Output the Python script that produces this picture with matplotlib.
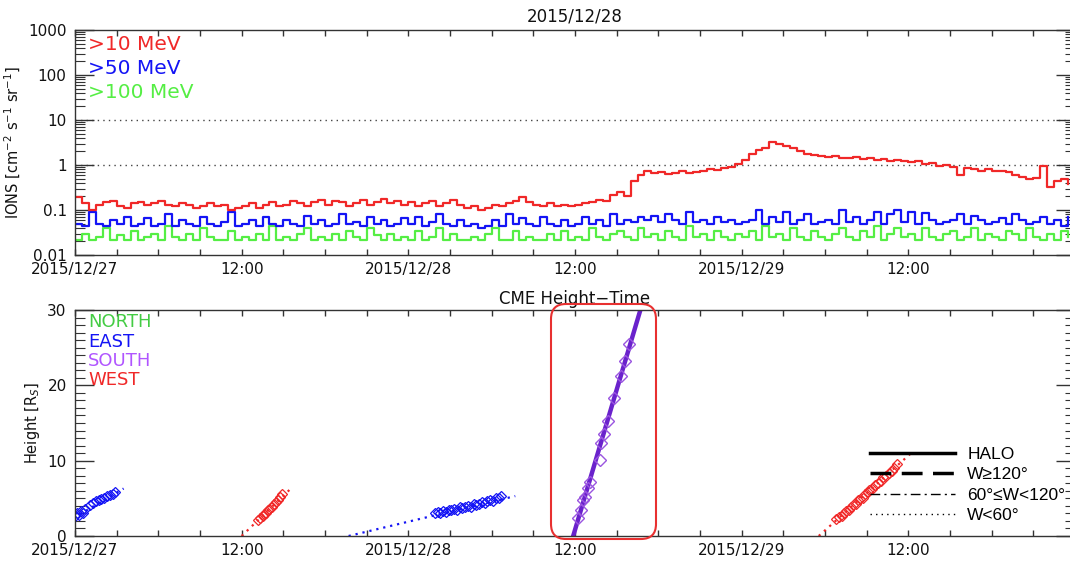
import matplotlib
matplotlib.use('Agg')
import matplotlib.pyplot as plt, numpy as np
from matplotlib.lines import Line2D
from matplotlib.patches import FancyBboxPatch
from matplotlib.transforms import IdentityTransform
from matplotlib.ticker import FixedLocator, MultipleLocator, FuncFormatter, LogLocator, NullFormatter

plt.rcParams['font.family'] = ['DejaVu Sans']

# GOES integral proton flux, 30-min samples from 2015/12/27 00:00
flux_10 = [0.19,0.14,0.10,0.13,0.15,0.16,0.12,0.11,0.14,0.15,0.13,0.14,
           0.16,0.13,0.12,0.14,0.13,0.11,0.12,0.14,0.12,0.13,0.10,0.11,
           0.12,0.14,0.11,0.13,0.15,0.12,0.13,0.16,0.14,0.12,0.15,0.17,
           0.13,0.16,0.15,0.12,0.14,0.17,0.13,0.15,0.18,0.14,0.16,0.13,
           0.15,0.12,0.14,0.16,0.12,0.14,0.17,0.13,0.11,0.12,0.10,0.11,
           0.13,0.12,0.14,0.16,0.19,0.15,0.13,0.12,0.14,0.12,0.13,0.12,
           0.13,0.14,0.15,0.17,0.16,0.22,0.25,0.20,0.45,0.60,0.72,0.65,
           0.70,0.63,0.68,0.72,0.66,0.70,0.75,0.80,0.78,0.85,0.90,1.05,
           1.3,1.8,2.2,2.4,3.3,2.9,2.7,2.4,2.0,1.8,1.7,1.6,
           1.5,1.55,1.4,1.45,1.5,1.35,1.4,1.3,1.35,1.25,1.3,1.2,
           1.15,1.2,1.05,1.1,0.95,1.0,0.9,0.6,0.85,0.8,0.75,0.82,
           0.72,0.75,0.7,0.6,0.55,0.5,0.52,0.95,0.33,0.45,0.5,0.38]
flux_50 = [0.05,0.045,0.09,0.05,0.045,0.06,0.05,0.07,0.045,0.05,0.065,0.045,
           0.05,0.08,0.045,0.06,0.05,0.045,0.07,0.05,0.045,0.055,0.09,0.045,
           0.05,0.06,0.045,0.07,0.05,0.045,0.06,0.05,0.045,0.075,0.05,0.06,
           0.045,0.05,0.08,0.05,0.055,0.045,0.07,0.05,0.06,0.045,0.05,0.065,
           0.05,0.07,0.045,0.055,0.08,0.05,0.045,0.06,0.045,0.05,0.04,0.045,
           0.06,0.045,0.08,0.05,0.065,0.05,0.045,0.07,0.05,0.045,0.06,0.045,
           0.05,0.07,0.05,0.06,0.045,0.08,0.05,0.06,0.055,0.07,0.06,0.075,
           0.055,0.08,0.06,0.05,0.09,0.055,0.06,0.05,0.07,0.055,0.06,0.05,
           0.055,0.06,0.1,0.05,0.07,0.055,0.09,0.05,0.06,0.08,0.05,0.055,
           0.06,0.05,0.1,0.055,0.07,0.05,0.06,0.09,0.05,0.08,0.1,0.055,
           0.09,0.05,0.085,0.06,0.05,0.055,0.06,0.08,0.05,0.075,0.06,0.05,
           0.055,0.065,0.05,0.08,0.06,0.05,0.055,0.07,0.05,0.06,0.045,0.07]
flux_100 = [0.022,0.03,0.022,0.025,0.04,0.022,0.028,0.022,0.035,0.022,0.025,0.03,
            0.022,0.045,0.025,0.022,0.03,0.022,0.04,0.025,0.022,0.022,0.035,0.022,
            0.025,0.022,0.03,0.022,0.045,0.022,0.025,0.022,0.03,0.04,0.022,0.025,
            0.022,0.03,0.022,0.035,0.025,0.022,0.04,0.028,0.022,0.03,0.022,0.025,
            0.022,0.035,0.022,0.025,0.04,0.022,0.03,0.022,0.022,0.025,0.022,0.03,
            0.04,0.022,0.022,0.035,0.022,0.025,0.022,0.022,0.03,0.022,0.035,0.022,
            0.025,0.022,0.04,0.025,0.022,0.03,0.035,0.025,0.022,0.04,0.025,0.03,
            0.022,0.035,0.025,0.022,0.045,0.025,0.03,0.022,0.035,0.025,0.022,0.03,
            0.025,0.035,0.022,0.045,0.025,0.03,0.022,0.04,0.025,0.022,0.035,0.025,
            0.022,0.03,0.04,0.025,0.022,0.035,0.025,0.045,0.022,0.03,0.04,0.025,
            0.03,0.022,0.04,0.025,0.022,0.03,0.035,0.022,0.025,0.04,0.022,0.03,
            0.025,0.022,0.035,0.03,0.022,0.04,0.025,0.022,0.03,0.022,0.035,0.025]
flux_thresholds = [1, 10]

# CME height-time (hours since 2015/12/27 00:00, height in Rs)
east1_t = [0.0,0.15,0.3,0.45,0.6,0.75,1.1,1.3,1.5,1.7,1.9,2.1,2.3,2.5,2.7,2.9]
east1_h = [2.6,3.0,2.8,3.3,3.1,3.6,4.1,4.4,4.6,4.8,4.9,5.1,5.3,5.4,5.6,5.8]
east1_fit_t, east1_fit_h = [-2.3, 3.5], [0, 6.3]

west1_t = [13.2,13.35,13.5,13.6,13.75,13.9,14.0,14.15,14.3,14.45,14.6,14.75,14.9]
west1_h = [2.1,2.4,2.6,2.9,3.1,3.4,3.6,3.9,4.2,4.5,4.8,5.2,5.6]
west1_fit_t, west1_fit_h = [12.0, 15.6], [0, 6.4]

east2_t = [25.9,26.1,26.3,26.5,26.7,26.9,27.1,27.3,27.5,27.7,27.9,28.1,28.3,
           28.5,28.7,28.9,29.1,29.3,29.5,29.7,29.9,30.1,30.3,30.5,30.7]
east2_h = [3.0,3.2,3.1,3.3,3.2,3.5,3.4,3.6,3.5,3.8,3.7,3.9,4.0,
           3.9,4.2,4.1,4.3,4.5,4.4,4.6,4.8,4.7,5.0,5.1,5.3]
east2_fit_t, east2_fit_h = [19.7, 31.7], [0, 5.3]

south_t = [36.25,36.40,36.59,36.7,36.92,37.07,37.77,37.84,38.08,38.37,38.80,39.28,39.57,39.88]
south_h = [2.4,3.5,4.8,5.2,6.4,7.2,10.1,12.4,13.6,15.2,18.3,21.2,23.2,25.5]
south_fit_t, south_fit_h = [35.87, 40.9], [0, 31.2]

west2_t = [54.8,55.0,55.2,55.4,55.5,55.7,55.9,56.0,56.2,56.4,56.5,56.7,56.9,
           57.1,57.2,57.4,57.6,57.8,58.0,58.2,58.4,58.6,58.8,59.0,59.2]
west2_h = [2.2,2.5,2.6,3.1,3.3,3.4,3.9,4.1,4.3,4.8,4.9,5.1,5.6,
           5.8,6.1,6.3,6.8,7.0,7.3,7.8,7.9,8.4,8.6,9.0,9.5]
west2_fit_t, west2_fit_h = [53.55, 60.2], [0, 11.0]

RED, BLUE, GREEN = '#f02828', '#1414f5', '#55ee44'
PURPLE_LINE, PURPLE_PT = '#6a22cc', '#9a55e0'
AX_COL = '#333333'

day_labels = {0: '2015/12/27', 24: '2015/12/28', 48: '2015/12/29'}
def xfmt(v, pos):
    v = int(round(v))
    if v >= 72:
        return ''
    if v in day_labels:
        return day_labels[v]
    return '%02d:00' % (v % 24)

fig = plt.figure(figsize=(10.7, 5.62), dpi=100)
W, H = 1070., 562.
ax1 = fig.add_axes([75/W, 1-255/H, 1000/W, 225/H])
ax2 = fig.add_axes([75/W, 1-536/H, 1000/W, 226/H])

def style_axes(ax):
    for s in ax.spines.values():
        s.set_color(AX_COL)
        s.set_linewidth(1.0)
    ax.set_xlim(0, 72)
    ax.xaxis.set_major_locator(MultipleLocator(12))
    ax.xaxis.set_minor_locator(MultipleLocator(3))
    ax.xaxis.set_major_formatter(FuncFormatter(xfmt))
    ax.tick_params(axis='x', which='both', direction='in', length=4, width=1,
                   top=True, bottom=True, colors=AX_COL, labelcolor='#111', labelsize=11, pad=5)
    ax.tick_params(axis='y', which='major', direction='in', length=14, width=1,
                   left=True, right=True, colors=AX_COL, labelcolor='#111', labelsize=11, pad=6)
    ax.tick_params(axis='y', which='minor', direction='in', length=7, width=0.8,
                   left=True, right=True, colors=AX_COL)

# ---- top panel: proton flux
t = np.arange(len(flux_10)) * 0.5
for v in flux_thresholds:
    ax1.axhline(v, color='#444444', lw=1, ls=(0, (1, 3)), zorder=1)
ax1.step(t, flux_100, where='post', color=GREEN, lw=1.6)
ax1.step(t, flux_50, where='post', color=BLUE, lw=1.6)
ax1.step(t, flux_10, where='post', color=RED, lw=1.6)
ax1.set_yscale('log')
ax1.set_ylim(0.01, 1000)
ax1.yaxis.set_major_locator(FixedLocator([0.01, 0.1, 1, 10, 100, 1000]))
ax1.yaxis.set_major_formatter(FuncFormatter(lambda v, p: {0.01: '0.01', 0.1: '0.1', 1: '1', 10: '10', 100: '100', 1000: '1000'}.get(v, '')))
ax1.yaxis.set_minor_locator(LogLocator(base=10, subs=np.arange(2, 10)))
ax1.yaxis.set_minor_formatter(NullFormatter())
style_axes(ax1)
ax1.set_title('2015/12/28', fontsize=12, pad=6, color='#111')
ax1.set_ylabel(r'IONS [cm$^{-2}$ s$^{-1}$ sr$^{-1}$]', fontsize=10.5, color='#111')
ax1.yaxis.set_label_coords(-0.052, 0.5)
for txt, col, yp in [('>10 MeV', RED, 45), ('>50 MeV', BLUE, 68), ('>100 MeV', GREEN, 92)]:
    ax1.text(13/1000, (255-yp)/225, txt, color=col, fontsize=14.5, va='center', ha='left',
             transform=ax1.transAxes)

# ---- bottom panel: CME height-time
for ft, fh, pt, ph, col in [(east1_fit_t, east1_fit_h, east1_t, east1_h, BLUE),
                            (west1_fit_t, west1_fit_h, west1_t, west1_h, RED),
                            (east2_fit_t, east2_fit_h, east2_t, east2_h, BLUE),
                            (west2_fit_t, west2_fit_h, west2_t, west2_h, RED)]:
    ax2.plot(ft, fh, color=col, lw=1.6, ls=(0, (1, 2.2)))
    ax2.plot(pt, ph, ls='none', marker='D', ms=5, mfc='none', mec=col, mew=0.9)
ax2.plot(south_fit_t, south_fit_h, color=PURPLE_LINE, lw=3.2)
ax2.plot(south_t, south_h, ls='none', marker='D', ms=6, mfc='none', mec=PURPLE_PT, mew=1.0)
ax2.set_ylim(0, 30)
ax2.yaxis.set_major_locator(MultipleLocator(10))
ax2.yaxis.set_minor_locator(MultipleLocator(1))
style_axes(ax2)
ax2.set_title('CME Height\u2212Time', fontsize=12, pad=4, color='#111')
ax2.set_ylabel(r'Height [R$_S$]', fontsize=10.5, color='#111')
ax2.yaxis.set_label_coords(-0.033, 0.5)
for txt, col, yp in [('NORTH', '#44cc44', 322), ('EAST', BLUE, 342),
                     ('SOUTH', '#b055ff', 361), ('WEST', RED, 380)]:
    ax2.text(13/1000, (536-yp)/226, txt, color=col, fontsize=13, va='center', ha='left',
             transform=ax2.transAxes)

handles = [Line2D([], [], color='k', lw=2.5, ls='-'),
           Line2D([], [], color='k', lw=2.5, ls=(0, (6, 3))),
           Line2D([], [], color='k', lw=1, ls=(0, (7, 3, 1.5, 3))),
           Line2D([], [], color='k', lw=1, ls=(0, (1, 3)))]
labels = ['HALO', 'W\u2265120\u00b0', '60\u00b0\u2264W<120\u00b0', 'W<60\u00b0']
ax2.legend(handles, labels, loc='upper left', bbox_to_anchor=(0.795, 0.395), frameon=False,
           prop={'family': ['Liberation Sans', 'DejaVu Sans'], 'size': 12.5},
           handlelength=4.9, handletextpad=0.7, labelspacing=0.3,
           borderpad=0, borderaxespad=0)

# red highlight box around the halo CME
box = FancyBboxPatch((551, 562-539), 105, 235, boxstyle='round,pad=0,rounding_size=15',
                     transform=IdentityTransform(), fill=False, ec='#e83030', lw=1.5)
fig.patches.append(box)

fig.savefig('out.png', dpi=100)
